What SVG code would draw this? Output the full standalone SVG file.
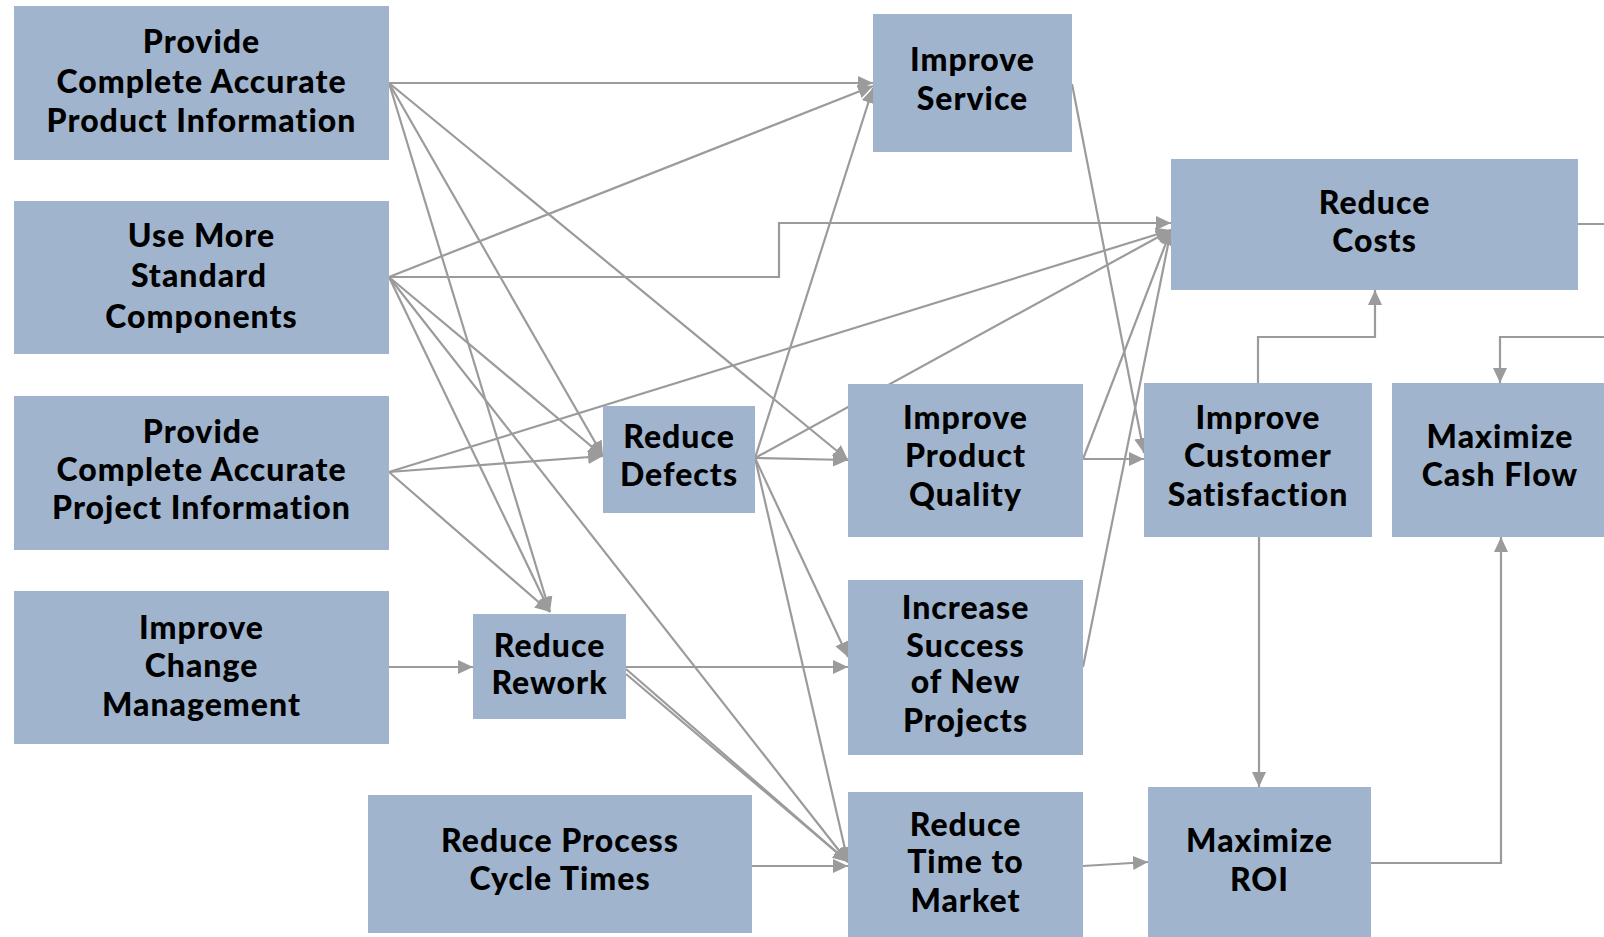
<svg xmlns="http://www.w3.org/2000/svg" width="1604" height="937" viewBox="0 0 1604 937">
<defs>
<marker id="ah" markerUnits="userSpaceOnUse" markerWidth="16" markerHeight="14" refX="15" refY="7" orient="auto">
<path d="M0,0 L15,7 L0,14 z" fill="#9b9b9b"/>
</marker>
<style>
.box{fill:#a0b5cd;}
.c{fill:none;stroke:#9b9b9b;stroke-width:2.2;marker-end:url(#ah);}
text{font-family:Lato,"Liberation Sans",sans-serif;font-weight:900;font-size:32px;letter-spacing:1px;fill:#000;text-anchor:middle;}
</style>
</defs>
<rect width="1604" height="937" fill="#fff"/>
<g id="connectors">
<path class="c" d="M389,83 L873,83"/>
<path class="c" d="M389,277 L873,86"/>
<path class="c" d="M755,458 L873,88"/>
<path class="c" d="M389,277 H779 V223 H1171"/>
<path class="c" d="M389,472 L1171,230"/>
<path class="c" d="M755,458 L1171,230"/>
<path class="c" d="M1083,459 L1171,230"/>
<path class="c" d="M1083,667 L1171,230"/>
<path class="c" d="M1072,84 L1144,453"/>
<path class="c" d="M1083,459 L1144,459"/>
<path class="c" d="M1258,383 V337 H1375 V290"/>
<path class="c" d="M1578,224 H1620 V337 H1500 V383"/>
<path class="c" d="M1259,537 V787"/>
<path class="c" d="M1371,863 H1501 V537"/>
<path class="c" d="M1083,866 L1148,862"/>
<path class="c" d="M752,866 L848,866"/>
<path class="c" d="M389,667 L473,667"/>
<path class="c" d="M626,667 L848,667"/>
<path class="c" d="M626,669 L848,862"/>
<path class="c" d="M626,674 L848,862"/>
<path class="c" d="M755,458 L848,460"/>
<path class="c" d="M755,458 L848,657"/>
<path class="c" d="M755,458 L848,862"/>
<path class="c" d="M389,277 L848,862"/>
<path class="c" d="M389,83 L550,612"/>
<path class="c" d="M389,277 L550,612"/>
<path class="c" d="M389,472 L550,612"/>
<path class="c" d="M389,83 L603,456"/>
<path class="c" d="M389,277 L603,456"/>
<path class="c" d="M389,472 L603,456"/>
<path class="c" d="M389,83 L848,460"/>
</g>
<g id="n1"><rect class="box" x="14" y="6" width="375" height="154"/><text x="201.5" y="53">Provide</text><text x="201.5" y="93">Complete Accurate</text><text x="201.5" y="132">Product Information</text></g>
<g id="n2"><rect class="box" x="14" y="201" width="375" height="153"/><text x="201.5" y="247">Use More</text><text x="199" y="287">Standard</text><text x="201.5" y="328">Components</text></g>
<g id="n3"><rect class="box" x="14" y="396" width="375" height="154"/><text x="201.5" y="443">Provide</text><text x="201.5" y="481">Complete Accurate</text><text x="201.5" y="519">Project Information</text></g>
<g id="n4"><rect class="box" x="14" y="591" width="375" height="153"/><text x="201.5" y="639">Improve</text><text x="201.5" y="677">Change</text><text x="201.5" y="716">Management</text></g>
<g id="n5"><rect class="box" x="368" y="795" width="384" height="138"/><text x="560" y="852">Reduce Process</text><text x="560" y="890">Cycle Times</text></g>
<g id="n6"><rect class="box" x="473" y="614" width="153" height="105"/><text x="549.5" y="657">Reduce</text><text x="549.5" y="694">Rework</text></g>
<g id="n7"><rect class="box" x="603" y="406" width="152" height="107"/><text x="679" y="448">Reduce</text><text x="679" y="486">Defects</text></g>
<g id="n8"><rect class="box" x="873" y="14" width="199" height="138"/><text x="972.5" y="71">Improve</text><text x="972.5" y="110">Service</text></g>
<g id="n9"><rect class="box" x="848" y="384" width="235" height="153"/><text x="965.5" y="429">Improve</text><text x="965.5" y="467">Product</text><text x="965.5" y="506">Quality</text></g>
<g id="n10"><rect class="box" x="848" y="580" width="235" height="175"/><text x="965.5" y="619">Increase</text><text x="965.5" y="657">Success</text><text x="965.5" y="693">of New</text><text x="965.5" y="732">Projects</text></g>
<g id="n11"><rect class="box" x="848" y="792" width="235" height="150"/><text x="965.5" y="836">Reduce</text><text x="965.5" y="873">Time to</text><text x="965.5" y="912">Market</text></g>
<g id="n12"><rect class="box" x="1171" y="159" width="407" height="131"/><text x="1374.5" y="214">Reduce</text><text x="1374.5" y="252">Costs</text></g>
<g id="n13"><rect class="box" x="1144" y="383" width="228" height="154"/><text x="1258" y="429">Improve</text><text x="1258" y="467">Customer</text><text x="1258" y="506">Satisfaction</text></g>
<g id="n14"><rect class="box" x="1392" y="383" width="220" height="154"/><text x="1500" y="448">Maximize</text><text x="1500" y="486">Cash Flow</text></g>
<g id="n15"><rect class="box" x="1148" y="787" width="223" height="155"/><text x="1259.5" y="852">Maximize</text><text x="1259.5" y="891">ROI</text></g>
</svg>
